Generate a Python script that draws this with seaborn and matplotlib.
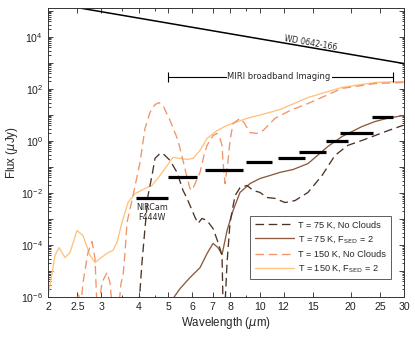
import numpy as np
import matplotlib
matplotlib.use("Agg")
import matplotlib.pyplot as plt
from matplotlib.ticker import FixedLocator, FuncFormatter, NullFormatter, LogLocator
import seaborn as sns

# --- model spectra (wavelength in micron, flux in micro-Jy) ---
wave_150_fsed = [2.0, 2.11, 2.175, 2.276, 2.364, 2.494, 2.61, 2.753, 2.86, 2.971, 3.156, 3.279,
                 3.381, 3.512, 3.676, 3.877, 4.182, 4.412, 4.688, 4.871, 5.176, 5.46, 5.758,
                 6.028, 6.358, 6.706, 7.235, 7.808, 9.087, 10.82, 11.68, 14.45, 18.72, 24.07, 30.0]
flux_150_fsed = [1.0e-6, 4.0e-5, 7.9e-5, 3.3e-5, 5.1e-5, 3.6e-4, 2.3e-4, 4.0e-5, 2.1e-5, 3.0e-5,
                 5.1e-5, 6.2e-5, 1.26e-4, 7.4e-4, 4.3e-3, 9.5e-3, 0.0148, 0.0195, 0.047, 0.087,
                 0.234, 0.214, 0.195, 0.214, 0.43, 1.26, 2.5, 4.0, 7.4, 12.6, 16.2, 47, 115, 178, 195]

wave_150_clear = [2.475, 2.512, 2.56, 2.58, 2.61, 2.711, 2.795, 2.86, 2.90, 2.95, 3.016, 3.132,
                  3.205, 3.254, 3.432, 3.485, 3.539, 3.593, 3.648, 3.818, 4.026, 4.182, 4.345,
                  4.513, 4.65, 4.797, 5.06, 5.377, 5.585, 5.758, 5.891, 5.983, 6.121, 6.358,
                  6.551, 6.706, 7.019, 7.235, 7.402, 7.515, 7.573, 7.689, 7.868, 7.988, 8.172,
                  8.617, 8.88, 9.298, 9.806, 10.26, 10.82, 11.24, 12.6, 14.45, 18.72, 24.07, 29.9]
flux_150_clear = [5e-7, 1.4e-6, 7e-7, 8e-7, 3.6e-6, 5.1e-5, 1.35e-4, 3.0e-5, 5e-7, 5e-7, 3.6e-6,
                  8.7e-6, 3.6e-6, 5e-7, 5e-7, 3.3e-6, 6.7e-6, 5.1e-5, 7.4e-4, 7.9e-3, 0.148, 3.0,
                  12.6, 25, 30, 23, 6.2, 1.05, 0.178, 0.040, 0.0148, 0.0126, 0.023, 0.062, 0.28,
                  0.68, 1.62, 1.95, 1.26, 0.68, 0.148, 0.023, 0.178, 1.05, 4.7, 7.4, 5.1, 2.1,
                  1.95, 2.5, 4.7, 7.4, 14.8, 27.5, 105, 162, 178]

wave_75_clear = [3.996, 4.088, 4.182, 4.279, 4.412, 4.513, 4.688, 4.797, 5.06, 5.336, 5.585, 5.758,
                 6.121, 6.262, 6.455, 6.706, 7.019, 7.291, 7.515, 7.573, 7.689, 7.808, 7.988,
                 8.296, 8.617, 9.087, 9.513, 10.03, 10.58, 11.24, 12.13, 13.09, 14.45, 16.08,
                 17.75, 19.59, 21.8, 24.07, 26.57, 29.8]
flux_75_clear = [5e-7, 2.1e-5, 4.3e-4, 7.9e-3, 0.047, 0.214, 0.33, 0.33, 0.178, 0.062, 0.0126,
                 6.2e-3, 1.15e-3, 6.8e-4, 1.05e-3, 8.7e-4, 4.3e-4, 1.26e-4, 4.0e-5, 5e-7, 5e-7,
                 2.1e-5, 7.4e-4, 7.9e-3, 0.016, 0.0195, 0.0126, 0.0105, 6.7e-3, 6.2e-3, 4.3e-3,
                 5.1e-3, 0.0105, 0.047, 0.28, 0.68, 1.05, 1.62, 2.5, 4.0]

wave_75_fsed = [5.15, 5.46, 5.891, 6.358, 6.706, 7.019, 7.291, 7.515, 7.689, 7.808, 8.172, 8.617,
                9.298, 10.03, 10.82, 11.68, 12.9, 14.45, 16.83, 18.72, 21.8, 24.07, 26.36, 29.8]
flux_75_fsed = [8e-7, 2.1e-6, 5.6e-6, 1.35e-5, 4.7e-5, 1.15e-4, 7.9e-5, 4.3e-5, 1.5e-4, 3.6e-4,
                2.1e-3, 0.0105, 0.023, 0.036, 0.047, 0.062, 0.080, 0.135, 0.62, 1.48, 3.6, 5.6,
                7.4, 9.5]

# white dwarf (Rayleigh-Jeans tail)
wd_wave = [2.0, 30.0]
wd_flux = [2.1e5, 9.5e2]

# filter sensitivities: NIRCam F444W + MIRI broadband filters
filt_lo = [3.9, 5.0, 6.6, 9.0, 11.5, 13.5, 16.6, 18.4, 23.5]
filt_hi = [5.0, 6.2, 8.8, 11.0, 14.1, 16.6, 19.6, 23.7, 27.6]
filt_flux = [0.0067, 0.043, 0.074, 0.149, 0.23, 0.39, 0.96, 2.1, 8.0]

miri_range = [5.0, 27.5]
miri_level = 300

xtick_vals = [2, 2.5, 3, 4, 5, 6, 7, 8, 10, 12, 15, 20, 25, 30]
xminor_vals = [3.5, 4.5, 9]

c_dark = "#4b3426"
c_brown = "#8c5a3c"
c_orange = "#f0946a"
c_light = "#ffc27e"


def main():
    sns.set_style("ticks")
    plt.rcParams["font.family"] = ["Liberation Sans", "DejaVu Sans"]
    plt.rcParams["xtick.direction"] = "in"
    plt.rcParams["ytick.direction"] = "in"

    fig = plt.figure(figsize=(4.15, 3.4), dpi=100)
    ax = fig.add_axes([48 / 415, 1 - 297 / 340, 356 / 415, 289 / 340])

    lw = 0.95
    dash = (0, (6.5, 3.5))
    common = dict(ax=ax, sort=False, estimator=None, legend=False)
    sns.lineplot(x=wave_150_fsed, y=flux_150_fsed, color=c_light, lw=lw, **common)
    sns.lineplot(x=wave_150_clear, y=flux_150_clear, color=c_orange, lw=lw,
                 linestyle=dash, **common)
    sns.lineplot(x=wave_75_fsed, y=flux_75_fsed, color=c_brown, lw=lw, **common)
    sns.lineplot(x=wave_75_clear, y=flux_75_clear, color=c_dark, lw=lw,
                 linestyle=dash, **common)
    sns.lineplot(x=wd_wave, y=wd_flux, color="black", lw=1.1, **common)

    # filter bars
    for lo, hi, f in zip(filt_lo, filt_hi, filt_flux):
        ax.plot([lo, hi], [f, f], color="black", lw=2.3, solid_capstyle="butt")

    # MIRI range
    ax.plot(miri_range, [miri_level] * 2, color="black", lw=0.8, marker="|",
            markersize=7, markeredgewidth=0.8)
    ax.text(11.6, miri_level, "MIRI broadband Imaging", ha="center", va="center",
            fontsize=6.0, family="DejaVu Sans",
            bbox=dict(facecolor="white", edgecolor="none", pad=0.6))
    ax.text(14.7, 5600, "WD 0642-166", ha="center", va="center", rotation=-10,
            fontsize=5.6, family="DejaVu Sans")
    ax.text(4.42, 4.3e-3, "NIRCam\nF444W", ha="center", va="top", fontsize=5.8,
            family="DejaVu Sans", linespacing=1.25)

    ax.set_xscale("log")
    ax.set_yscale("log")
    ax.set_xlim(2, 30)
    ax.set_ylim(1e-6, 1.3e5)

    ax.xaxis.set_major_locator(FixedLocator(xtick_vals))
    ax.xaxis.set_major_formatter(FuncFormatter(lambda v, p: f"{v:g}"))
    ax.xaxis.set_minor_locator(FixedLocator(xminor_vals))
    ax.xaxis.set_minor_formatter(NullFormatter())

    ax.yaxis.set_major_locator(FixedLocator([10.0 ** e for e in range(-6, 6)]))
    ax.yaxis.set_major_formatter(FuncFormatter(
        lambda v, p: "$\\mathdefault{10^{%d}}$" % round(np.log10(v))
        if round(np.log10(v)) % 2 == 0 else ""))
    ax.yaxis.set_minor_locator(LogLocator(base=10, subs=np.arange(2, 10), numticks=20))
    ax.yaxis.set_minor_formatter(NullFormatter())

    ax.tick_params(which="both", top=True, right=True, labelsize=7.6, colors="#222222",
                   width=0.6)
    ax.tick_params(which="major", length=3.5)
    ax.tick_params(which="minor", length=1.8)
    for s in ax.spines.values():
        s.set_linewidth(0.7)
        s.set_color("#333333")

    ax.set_xlabel("Wavelength ($\\mu$m)", fontsize=8.3, labelpad=2)
    ax.set_ylabel("Flux ($\\mu$Jy)", fontsize=8.3, labelpad=1)

    handles = [
        plt.Line2D([], [], color=c_dark, lw=lw, linestyle=dash),
        plt.Line2D([], [], color=c_brown, lw=lw),
        plt.Line2D([], [], color=c_orange, lw=lw, linestyle=dash),
        plt.Line2D([], [], color=c_light, lw=lw),
    ]
    labels = ["T = 75 K, No Clouds", "T = 75 K, F$_{\\rm SED}$ = 2",
              "T = 150 K, No Clouds", "T = 150 K, F$_{\\rm SED}$ = 2"]
    leg = ax.legend(handles, labels, loc="lower right", bbox_to_anchor=(0.975, 0.045),
                    fontsize=6.6, frameon=True, fancybox=False, handlelength=4.2,
                    borderpad=0.55, labelspacing=0.5, handletextpad=0.4)
    leg.get_frame().set_edgecolor("#333333")
    leg.get_frame().set_linewidth(0.7)

    fig.savefig("out.png", dpi=100)


if __name__ == "__main__":
    main()
